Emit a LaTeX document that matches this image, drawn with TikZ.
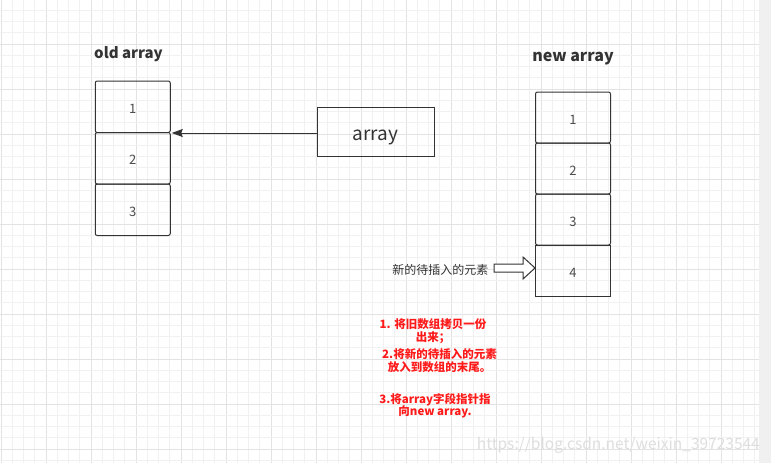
\documentclass[tikz,border=0pt]{standalone}
\usepackage{fontspec}
\setmainfont{Noto Sans CJK SC}
\usetikzlibrary{arrows.meta}
\definecolor{gridminor}{HTML}{F1F1F1}
\definecolor{gridmajor}{HTML}{E3E3E3}
\definecolor{strip}{HTML}{F0F0F0}
\definecolor{ink}{HTML}{333333}
\definecolor{redtxt}{HTML}{FF1A1A}
\tikzset{
  cell/.style={draw=ink, line width=1pt, rounded corners=2pt, minimum width=75pt, minimum height=51pt, inner sep=0pt, text=black!70, font=\fontsize{13}{14}\selectfont, text height=13pt, text depth=0pt},
  title/.style={text=ink, font=\bfseries\fontsize{16}{18}\selectfont, inner sep=0pt},
  note/.style={text=redtxt, font=\bfseries\fontsize{11.5}{12.5}\selectfont, align=center, inner sep=0pt},
}
\begin{document}
\begin{tikzpicture}[x=1pt,y=-1pt]
\useasboundingbox (0,0) rectangle (771,463);
\fill[white] (0,0) rectangle (771,463);
% grid
\foreach \k in {0,...,67}{
  \pgfmathtruncatemacro\m{mod(\k,4)}
  \ifnum\m=0 \draw[gridmajor, line width=0.8pt] ({1+11.25*\k},0) -- ({1+11.25*\k},463);
  \else \draw[gridminor, line width=0.8pt] ({1+11.25*\k},0) -- ({1+11.25*\k},463); \fi
}
\foreach \k in {1,...,41}{
  \pgfmathtruncatemacro\m{mod(\k,4)}
  \ifnum\m=0 \draw[gridmajor, line width=0.8pt] (0,{-1+11.25*\k}) -- (759,{-1+11.25*\k});
  \else \draw[gridminor, line width=0.8pt] (0,{-1+11.25*\k}) -- (759,{-1+11.25*\k}); \fi
}
\fill[strip] (759,0) rectangle (771,463);

% old array
\node[title, font=\bfseries\fontsize{15}{17}\selectfont] (ot) at (128.5,54) {old array};
\node[cell, minimum height=51.5pt] (o1) at (132.75,106.75) {1};
\node[cell, minimum height=51.5pt] (o2) at (132.75,158.25) {2};
\node[cell, minimum height=51.5pt] (o3) at (132.75,209.75) {3};

% array pointer
\node[draw=ink, line width=1pt, minimum width=117pt, minimum height=49pt, inner sep=0pt, text=ink, font=\fontsize{19}{20}\selectfont, text height=16.5pt, text depth=0pt] (arr) at (375.5,131.75) {array};
\coordinate (otarget) at ([xshift=1pt]o1.south east);
\draw[ink, line width=1pt, -{Stealth[length=11pt,width=8pt,inset=1.5pt]}] (arr.west |- otarget) -- (otarget);

% new array
\node[title] (nt) at (573,59) {new array};
\node[cell] (n1) at (573,117.5) {1};
\node[cell] (n2) at (573,168.5) {2};
\node[cell] (n3) at (573,219.5) {3};
\node[cell, rounded corners=0pt] (n4) at (573,270.5) {4};

% new element
\node[text=ink, font=\fontsize{12}{13}\selectfont, inner sep=0pt, anchor=east] (ne) at (488.5,270) {新的待插入的元素};
\coordinate (tail) at (494,268);
\coordinate (tip) at (n4.west |- tail);
\draw[ink, line width=1pt, fill=white, line join=miter]
  ([yshift=-4pt]tail) -- ([xshift=-12pt,yshift=-4pt]tip) -- ([xshift=-12pt,yshift=-11pt]tip) -- (tip)
  -- ([xshift=-12pt,yshift=11pt]tip) -- ([xshift=-12pt,yshift=4pt]tip) -- ([yshift=4pt]tail) -- cycle;

% notes
\node[note] (s1) at (433,331) {1. 将旧数组拷贝一份\\出来；};
\node[note] (s2) at (439.5,360.5) {2.将新的待插入的元素\\放入到数组的末尾。};
\node[note] (s3) at (435,405.5) {3.将array字段指针指\\向new array.};

% watermark
\node[text=black!13, font=\fontsize{15.5}{16}\selectfont, inner sep=0pt, anchor=east] (wm) at (760,445) {https://blog.csdn.net/weixin\_39723544};
\end{tikzpicture}
\end{document}
